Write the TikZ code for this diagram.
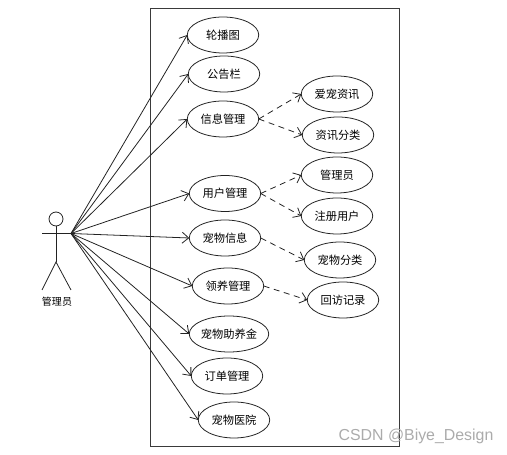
\documentclass[tikz,border=0pt]{standalone}
\usepackage{fontspec}
\usepackage{xcolor}
\setmainfont{Noto Sans CJK SC}
\newfontfamily\markfont{Liberation Sans}
\usetikzlibrary{shapes.geometric,arrows.meta}
\definecolor{ucLine}{HTML}{222222}
\definecolor{ucBox}{HTML}{3A3A3A}
\definecolor{ucMark}{HTML}{ABABAB}

\begin{document}
\begin{tikzpicture}[x=0.02cm,y=-0.02cm,font=\fontsize{6.4pt}{7pt}\selectfont,
  uc/.style={draw=ucLine,ellipse,minimum width=1.43cm,minimum height=0.72cm,
             inner sep=0pt,outer sep=0pt,line width=0.45pt},
  fig/.style={draw=ucLine,line width=0.45pt},
  a/.style={-{Straight Barb[length=1.3mm,width=2.2mm]},ucLine,line width=0.45pt},
  d/.style={a,dash pattern=on 3.4pt off 2.6pt}]
\useasboundingbox (0,0) rectangle (507,455);
\draw[ucBox,line width=0.45pt] (150,8) rectangle (399,446);
% actor
\node[fig,circle,minimum size=0.28cm,inner sep=0pt,outer sep=0pt] (head) at (56,219) {};
\coordinate (hip) at (56,262);
\coordinate (handl) at (42,233.5);
\coordinate (hand) at (71,233.5);
\coordinate (footl) at (42,290);
\coordinate (footr) at (71,290);
\draw[fig] (head) -- (hip);
\draw[fig] (handl) -- (hand);
\draw[fig] (footl) -- (hip) -- (footr);
\node[font=\fontsize{5.7pt}{7pt}\selectfont] (admin) at (57,301.5) {管理员};
% use cases
\node[uc] (banner) at (223,35) {轮播图};
\node[uc] (notice) at (224,74) {公告栏};
\node[uc] (info) at (223,119) {信息管理};
\node[uc] (user) at (225,193.5) {用户管理};
\node[uc] (pet) at (225,238) {宠物信息};
\node[uc] (adopt) at (228,286) {领养管理};
\node[uc] (fund) at (229,334) {宠物助养金};
\node[uc] (order) at (227,376) {订单管理};
\node[uc] (clinic) at (234,420) {宠物医院};
\node[uc] (news) at (337,94) {爱宠资讯};
\node[uc] (newstype) at (338,135) {资讯分类};
\node[uc] (manager) at (337,175) {管理员};
\node[uc] (member) at (337,216) {注册用户};
\node[uc] (pettype) at (340,260) {宠物分类};
\node[uc] (visit) at (343,300) {回访记录};
\draw[a] (hand) -- (banner.west);
\draw[a] (hand) -- (notice.west);
\draw[a] (hand) -- (info.west);
\draw[a] (hand) -- (user.west);
\draw[a] (hand) -- (pet.west);
\draw[a] (hand) -- (adopt.west);
\draw[a] (hand) -- (fund.west);
\draw[a] (hand) -- (order.west);
\draw[a] (hand) -- (clinic.west);
\draw[d] (info.east) -- (news.west);
\draw[d] (info.east) -- (newstype.west);
\draw[d] (user.east) -- (manager.west);
\draw[d] (user.east) -- (member.west);
\draw[d] (pet.east) -- (pettype.west);
\draw[d] (adopt.east) -- (visit.west);
\node[text=ucMark,font=\markfont\fontsize{9.05pt}{11pt}\selectfont] (mark) at (416,436) {CSDN @Biye\_Design};
\end{tikzpicture}
\end{document}
